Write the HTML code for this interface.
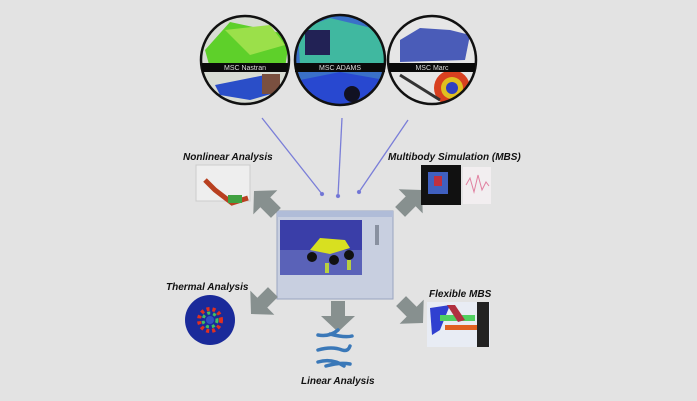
<!DOCTYPE html>
<html><head><meta charset="utf-8"><style>
html,body{margin:0;padding:0;background:#e3e3e3;width:697px;height:401px;overflow:hidden}
svg{display:block}
text{font-family:"Liberation Sans",sans-serif;font-weight:bold;font-style:italic}
</style></head><body>
<svg width="697" height="401" viewBox="0 0 697 401" xmlns="http://www.w3.org/2000/svg">
<rect width="697" height="401" fill="#e3e3e3"/>
<defs>
<clipPath id="c1"><circle cx="245" cy="60" r="44"/></clipPath>
<clipPath id="c2"><circle cx="340" cy="60" r="45"/></clipPath>
<clipPath id="c3"><circle cx="432" cy="60" r="44"/></clipPath>
<polygon id="ar" points="0,0 17,16 7,16 7,31 -7,31 -7,16 -17,16" fill="#87908f"/>
</defs>
<g clip-path="url(#c1)">
<rect x="200" y="15" width="90" height="90" fill="#d8dcd4"/>
<polygon points="205,50 230,22 290,35 285,68 210,68" fill="#5ed02a"/>
<polygon points="225,30 270,25 285,45 250,55" fill="#9be04a"/>
<polygon points="215,85 265,75 285,90 250,100 220,95" fill="#2a4ec8"/>
<rect x="262" y="74" width="18" height="20" fill="#7a5040"/>
</g>
<circle cx="245" cy="60" r="44" fill="none" stroke="#111" stroke-width="2.5"/>
<g clip-path="url(#c2)">
<rect x="294" y="14" width="92" height="92" fill="#3a70c8"/>
<polygon points="298,30 330,18 380,30 385,65 300,65" fill="#40b8a0"/>
<rect x="305" y="30" width="25" height="25" fill="#225"/>
<polygon points="300,80 340,72 385,80 380,105 300,105" fill="#2848d0"/>
<circle cx="352" cy="94" r="8" fill="#112"/>
</g>
<circle cx="340" cy="60" r="45" fill="none" stroke="#111" stroke-width="2.5"/>
<g clip-path="url(#c3)">
<rect x="388" y="16" width="90" height="90" fill="#e6e6e6"/>
<polygon points="400,40 420,28 450,30 470,35 465,60 400,62" fill="#4a5cb8"/>
<circle cx="452" cy="88" r="18" fill="#d84020"/>
<circle cx="452" cy="88" r="11" fill="#e0c020"/>
<circle cx="452" cy="88" r="6" fill="#3040c0"/>
<line x1="400" y1="75" x2="440" y2="100" stroke="#333" stroke-width="3"/>
</g>
<circle cx="432" cy="60" r="44" fill="none" stroke="#111" stroke-width="2.5"/>
<rect x="202" y="63" width="86" height="9" fill="#0a0a0a"/>
<rect x="295" y="63" width="90" height="9" fill="#0a0a0a"/>
<rect x="389" y="63" width="86" height="9" fill="#0a0a0a"/>
<g font-size="7" fill="#ddd">
<text x="245" y="70" text-anchor="middle" style="font-style:normal;font-weight:normal">MSC Nastran</text>
<text x="340" y="70" text-anchor="middle" style="font-style:normal;font-weight:normal">MSC ADAMS</text>
<text x="432" y="70" text-anchor="middle" style="font-style:normal;font-weight:normal">MSC Marc</text>
</g>
<g stroke="#7a7ed8" stroke-width="1.3" fill="#6a6ed0">
<line x1="262" y1="118" x2="322" y2="194"/>
<line x1="342" y1="118" x2="338" y2="196"/>
<line x1="408" y1="120" x2="359" y2="192"/>
<circle cx="322" cy="194" r="1.5"/><circle cx="338" cy="196" r="1.5"/><circle cx="359" cy="192" r="1.5"/>
</g>
<rect x="277" y="211" width="116" height="88" fill="#c8cfe0" stroke="#9aa4c0"/>
<rect x="277" y="211" width="116" height="6" fill="#b0bcd8"/>
<rect x="280" y="220" width="82" height="55" fill="#3a3ea8"/>
<rect x="280" y="250" width="82" height="25" fill="#5a62b8"/>
<polygon points="310,250 320,238 345,240 350,248 330,254" fill="#d8e020"/>
<circle cx="312" cy="257" r="5" fill="#111"/><circle cx="334" cy="260" r="5" fill="#111"/><circle cx="349" cy="255" r="5" fill="#111"/>
<rect x="325" y="263" width="4" height="10" fill="#b8d040"/><rect x="347" y="260" width="4" height="10" fill="#b8d040"/>
<rect x="375" y="225" width="4" height="20" fill="#8890a0"/>
<use href="#ar" transform="translate(254,191) rotate(-45)"/>
<use href="#ar" transform="translate(422,190) rotate(45)"/>
<use href="#ar" transform="translate(251,314) rotate(-135)"/>
<use href="#ar" transform="translate(338,332) rotate(180)"/>
<use href="#ar" transform="translate(423,323) rotate(135)"/>
<g font-size="10" fill="#111">
<text x="183" y="160">Nonlinear Analysis</text>
<text x="388" y="160">Multibody Simulation (MBS)</text>
<text x="166" y="290">Thermal Analysis</text>
<text x="429" y="297">Flexible MBS</text>
<text x="301" y="384">Linear Analysis</text>
</g>
<rect x="196" y="165" width="54" height="36" fill="#eeeeee" stroke="#ccc"/>
<polyline points="205,180 215,190 232,203 248,198" stroke="#b84020" stroke-width="5" fill="none"/>
<rect x="228" y="195" width="14" height="8" fill="#40a040"/>
<rect x="421" y="165" width="40" height="40" fill="#111"/>
<rect x="428" y="172" width="20" height="22" fill="#4060c0"/>
<rect x="434" y="176" width="8" height="10" fill="#c03040"/>
<rect x="463" y="167" width="28" height="37" fill="#f2eef0"/>
<polyline points="466,185 470,178 474,192 478,175 482,190 486,182 489,186" stroke="#e080a0" fill="none"/>
<circle cx="210" cy="320" r="25" fill="#1a2a9a"/>
<circle cx="210" cy="320" r="11" fill="none" stroke="#e03020" stroke-width="4" stroke-dasharray="3 3"/>
<circle cx="210" cy="320" r="7" fill="none" stroke="#40c060" stroke-width="3" stroke-dasharray="3 3"/>
<circle cx="210" cy="320" r="4" fill="#3050c0"/>
<rect x="427" y="302" width="63" height="45" fill="#e8ecf4"/>
<polygon points="430,308 450,305 440,330 432,335" fill="#3040d0"/>
<rect x="440" y="315" width="35" height="6" fill="#50d060"/>
<rect x="445" y="325" width="35" height="5" fill="#e06020"/>
<polygon points="447,305 455,305 465,320 458,322" fill="#b03040"/>
<rect x="477" y="302" width="12" height="45" fill="#222"/>
<g stroke="#3a78b8" stroke-width="3.5" fill="none" stroke-linecap="round">
<path d="M318,335 Q330,337 338,330 M330,334 Q345,338 352,336"/>
<path d="M318,350 Q332,346 342,350 Q348,352 350,346"/>
<path d="M318,362 Q332,358 344,366 M326,366 Q340,362 350,364"/>
</g>
</svg>
</body></html>
